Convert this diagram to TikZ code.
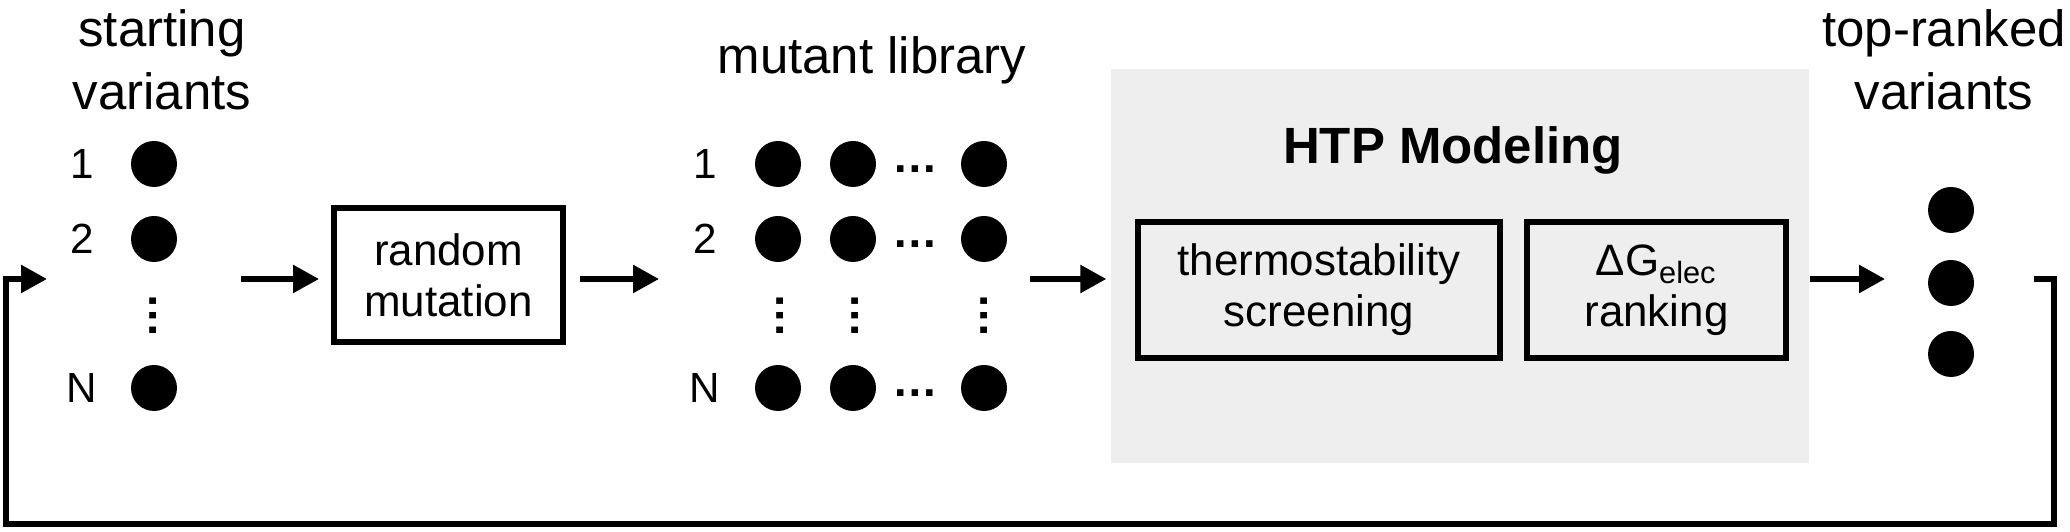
\documentclass[tikz,border=0pt]{standalone}
\usepackage{fontspec}
\setmainfont{Liberation Sans}
\usetikzlibrary{arrows.meta}
\definecolor{htpgray}{RGB}{238,238,238}

\begin{document}
\begin{tikzpicture}[
    variant/.style={circle, fill=black, inner sep=0pt, minimum size=4.6mm},
    num/.style={font=\fontsize{12pt}{14pt}\selectfont},
    more/.style={font=\fontsize{13pt}{15pt}\selectfont\bfseries, inner sep=0pt},
    heading/.style={align=center, font=\fontsize{14.5pt}{17.9pt}\selectfont},
    stepbox/.style={draw, line width=1.7pt, align=center, inner sep=0pt,
        font=\fontsize{12.5pt}{14.5pt}\selectfont},
    flow/.style={line width=1.6pt, -{Triangle[length=2.6mm, width=2.7mm]}}
]
    \useasboundingbox (0,0) rectangle (20.70,5.32);

    % HTP modeling panel
    \node[fill=htpgray, minimum width=6.98cm, minimum height=3.94cm, inner sep=0pt] (htp) at (14.60,2.66) {};
    \node[anchor=base, font=\fontsize{14.5pt}{17pt}\selectfont\bfseries] (htptitle) at (14.53,3.68) {HTP Modeling};
    \node[stepbox, minimum width=3.62cm, minimum height=1.36cm] (thermo) at (13.19,2.42) {thermostability\\screening};
    \node[stepbox, minimum width=2.59cm, minimum height=1.36cm] (dg) at (16.565,2.42) {ΔG\textsubscript{elec}\\ranking};

    % starting variants
    \node[heading] (startlbl) at (1.62,4.72) {starting\\variants};
    \node[num] (n1) at (0.82,3.68) {1};
    \node[num] (n2) at (0.82,2.93) {2};
    \node[num] (nN) at (0.82,1.44) {N};
    \node[variant] (s1) at (1.54,3.68) {};
    \node[variant] (s2) at (1.54,2.93) {};
    \node[variant] (sN) at (1.54,1.44) {};
    \node[more, rotate=90] (sv) at (1.53,2.16) {…};

    % random mutation
    \node[stepbox, minimum width=2.29cm, minimum height=1.34cm] (mut) at (4.485,2.57) {random\\mutation};

    % mutant library
    \node[heading, anchor=base] (liblbl) at (8.72,4.58) {mutant library};
    \node[num] (m1) at (7.05,3.68) {1};
    \node[num] (m2) at (7.05,2.93) {2};
    \node[num] (mN) at (7.05,1.44) {N};
    \node[variant] (l11) at (7.78,3.68) {};
    \node[variant] (l12) at (8.53,3.68) {};
    \node[variant] (l1n) at (9.84,3.68) {};
    \node[variant] (l21) at (7.78,2.93) {};
    \node[variant] (l22) at (8.53,2.93) {};
    \node[variant] (l2n) at (9.84,2.93) {};
    \node[variant] (lN1) at (7.78,1.44) {};
    \node[variant] (lN2) at (8.53,1.44) {};
    \node[variant] (lNn) at (9.84,1.44) {};
    \node[more] (lh1) at (9.15,3.63) {…};
    \node[more] (lh2) at (9.15,2.88) {…};
    \node[more] (lhN) at (9.15,1.39) {…};
    \node[more, rotate=90] (lv1) at (7.80,2.16) {…};
    \node[more, rotate=90] (lv2) at (8.55,2.16) {…};
    \node[more, rotate=90] (lvn) at (9.84,2.16) {…};

    % top-ranked variants
    \node[heading] (toplbl) at (19.44,4.72) {top-ranked\\variants};
    \node[variant] (t1) at (19.51,3.22) {};
    \node[variant] (t2) at (19.51,2.49) {};
    \node[variant] (t3) at (19.51,1.78) {};

    % arrows
    \coordinate (a1) at (2.41,2.53);
    \coordinate (a2) at (6.59,2.53);
    \coordinate (a3) at (10.30,2.53);
    \coordinate (a4) at (18.85,2.53);
    \draw[flow, shorten >=1.2mm] (a1) -- (mut.west |- a1);
    \draw[flow, shorten <=1.4mm] (mut.east |- a2) -- (a2);
    \draw[flow, shorten >=0.4mm] (a3) -- (htp.west |- a3);
    \draw[flow] (htp.east |- a4) -- (a4);

    % feedback loop
    \coordinate (fbout) at (20.34,2.53);
    \coordinate (loopR) at (20.54,0.08);
    \coordinate (loopL) at (0.06,0.08);
    \coordinate (fbin) at (0.47,2.53);
    \draw[flow] (fbout) -| (loopR) -- (loopL) |- (fbin);
\end{tikzpicture}
\end{document}
